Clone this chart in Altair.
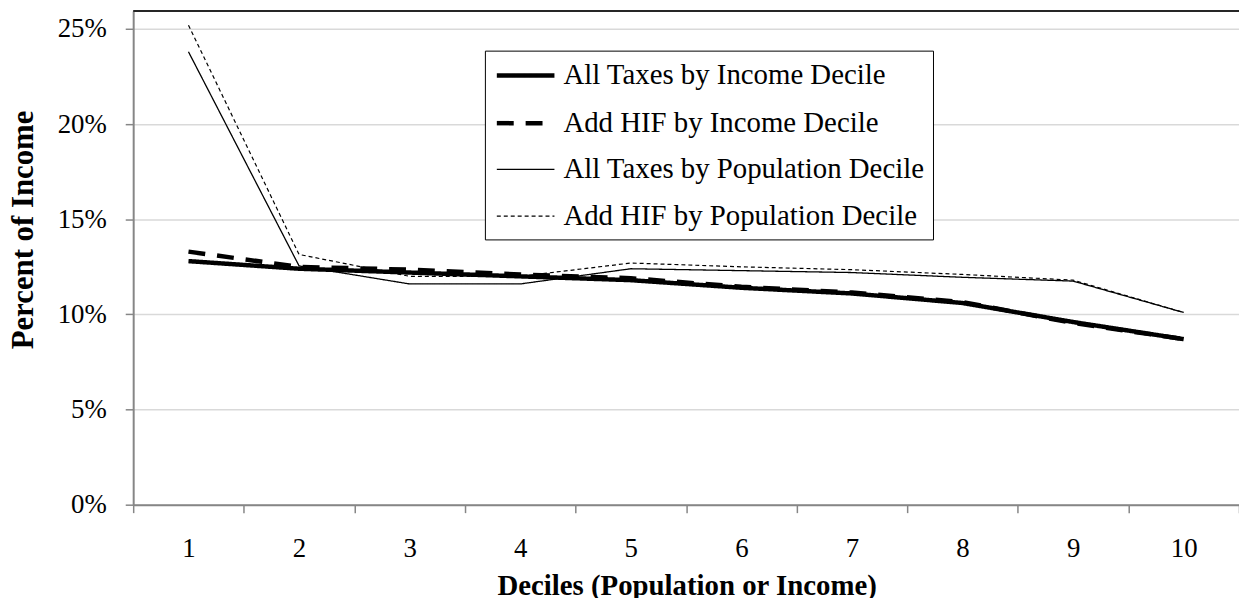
import altair as alt
import pandas as pd

deciles = [1, 2, 3, 4, 5, 6, 7, 8, 9, 10]
series_names = [
    "All Taxes by Income Decile",
    "Add HIF by Income Decile",
    "All Taxes by Population Decile",
    "Add HIF by Population Decile",
]
income_all = [12.8, 12.4, 12.2, 12.0, 11.8, 11.4, 11.1, 10.6, 9.6, 8.7]
income_hif = [13.3, 12.5, 12.35, 12.1, 11.9, 11.45, 11.15, 10.65, 9.55, 8.7]
pop_all = [23.8, 12.55, 11.6, 11.6, 12.4, 12.3, 12.2, 11.95, 11.75, 10.1]
pop_hif = [25.2, 13.15, 12.0, 12.0, 12.7, 12.5, 12.35, 12.1, 11.8, 10.1]
y_ticks = [0, 5, 10, 15, 20, 25]

rows = []
for name, vals in zip(series_names, [income_all, income_hif, pop_all, pop_hif]):
    for d, v in zip(deciles, vals):
        rows.append({"decile": d, "value": v, "series": name})
df = pd.DataFrame(rows)

FONT = "Liberation Serif"
GRAY = "#868686"
W, H = 1113, 497

legend_opts = dict(
    title=None,
    orient="none",
    legendX=354,
    legendY=40,
    strokeColor="black",
    fillColor="white",
    padding=8,
    labelFont=FONT,
    labelFontSize=29,
    labelColor="black",
    labelLimit=600,
    labelOffset=21,
    symbolType="M-2,0H2",
    symbolSize=841,
    symbolOffset=16,
    symbolStrokeColor="black",
    symbolFillColor="black",
    rowPadding=16,
)

lines = alt.Chart(df).mark_line(color="black").encode(
    x=alt.X(
        "decile:O",
        scale=alt.Scale(type="band", paddingInner=0, paddingOuter=0),
        axis=alt.Axis(
            labelAngle=0,
            tickBand="extent",
            tickSize=8,
            tickColor=GRAY,
            tickWidth=1.5,
            domainColor=GRAY,
            domainWidth=2,
            labelPadding=23,
            labelFont=FONT,
            labelFontSize=27,
            labelColor="black",
            grid=False,
            title="Deciles (Population or Income)",
            titleFont=FONT,
            titleFontSize=29,
            titleFontWeight="bold",
            titleColor="black",
            titleX=557,
            titleY=90,
            titleBaseline="alphabetic",
        ),
    ),
    y=alt.Y(
        "value:Q",
        scale=alt.Scale(domain=[0, 25.95], nice=False),
        axis=alt.Axis(
            values=y_ticks,
            labelExpr="datum.value + '%'",
            tickSize=8,
            tickColor=GRAY,
            tickWidth=1.5,
            domainColor=GRAY,
            domainWidth=2,
            labelPadding=19,
            labelFont=FONT,
            labelFontSize=27,
            labelColor="black",
            gridColor="#d9d9d9",
            gridWidth=1.5,
            title="Percent of Income",
            titleFont=FONT,
            titleFontSize=31,
            titleFontWeight="bold",
            titleColor="black",
            titleAngle=270,
            titleX=-101,
            titleY=220,
            titleAlign="center",
            titleBaseline="alphabetic",
        ),
    ),
    strokeDash=alt.StrokeDash(
        "series:N",
        scale=alt.Scale(domain=series_names, range=[[1, 0], [17, 12], [1, 0], [4, 3]]),
        legend=alt.Legend(**legend_opts),
    ),
    strokeWidth=alt.StrokeWidth(
        "series:N",
        scale=alt.Scale(type="ordinal", domain=series_names, range=[4.5, 4.5, 1.3, 1.2]),
        legend=alt.Legend(**legend_opts),
    ),
    order=alt.Order("decile:Q"),
)

top_border = alt.Chart(alt.Data(values=[{"a": 1}])).mark_rule(
    color="#262626", strokeWidth=2
).encode(x=alt.value(0), x2=alt.value(W), y=alt.value(0))

chart = (
    alt.layer(lines, top_border)
    .properties(
        width=W,
        height=H,
        autosize=alt.AutoSizeParams(type="none"),
        padding={"left": 126, "top": 1, "right": 0, "bottom": 92},
        background="white",
    )
    .configure_view(stroke=None)
)

chart.save("out.html", embed_options={"renderer": "svg", "actions": False})
